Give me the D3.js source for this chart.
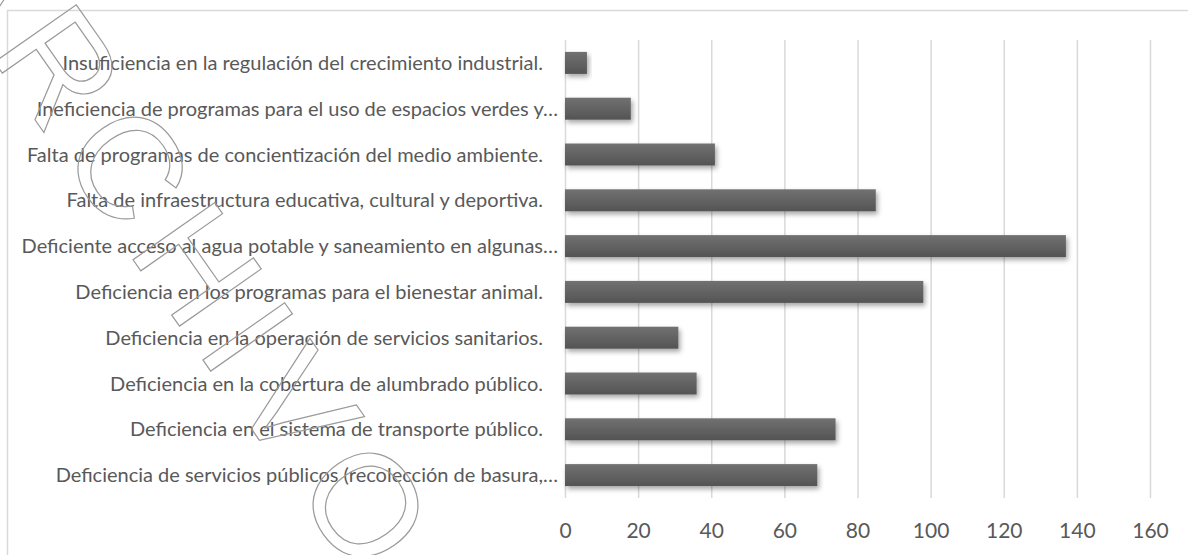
<!DOCTYPE html>
<meta charset="utf-8">

<style>
  body { margin: 0; background: white; }
  .cat-label { font-family: Lato, "Open Sans", sans-serif; font-size: 20px; fill: #595959; }
  .x-axis text { font-family: Lato, "Open Sans", sans-serif; font-size: 21px; fill: #595959; }
  .x-axis line { stroke: #d9d9d9; stroke-width: 1.5; }
  .watermark { font-family: "Liberation Sans", Arial, sans-serif; font-size: 145px; letter-spacing: 16px; fill: none; stroke: #9a9a9a; stroke-width: 1.2; }
</style>

<body>
  <script src="https://d3js.org/d3.v7.min.js"></script>

  <script type="application/javascript">
    var width = 1188,
        height = 555;

    // categories top to bottom, as shown
    var categories = [
      "Insuficiencia en la regulación del crecimiento industrial.",
      "Ineficiencia de programas para el uso de espacios verdes y…",
      "Falta de programas de concientización del medio ambiente.",
      "Falta de infraestructura educativa, cultural y deportiva.",
      "Deficiente acceso al agua potable y saneamiento en algunas…",
      "Deficiencia en los programas para el bienestar animal.",
      "Deficiencia en la operación de servicios sanitarios.",
      "Deficiencia en la cobertura de alumbrado público.",
      "Deficiencia en el sistema de  transporte público.",
      "Deficiencia de servicios públicos (recolección de basura,…"
    ];
    var values = [6, 18, 41, 85, 137, 98, 31, 36, 74, 69];
    var xTicks = [0, 20, 40, 60, 80, 100, 120, 140, 160];

    var margin = {top: 40, right: 38, bottom: 57, left: 565};

    var svg = d3.select("body").append("svg")
                .attr("width", width)
                .attr("height", height);

    var defs = svg.append("defs");
    var grad = defs.append("linearGradient")
                   .attr("id", "barGrad")
                   .attr("x1", 0).attr("y1", 0).attr("x2", 0).attr("y2", 1);
    grad.append("stop").attr("offset", "0%").attr("stop-color", "#717171");
    grad.append("stop").attr("offset", "100%").attr("stop-color", "#545454");

    var shadow = defs.append("filter")
                     .attr("id", "shadow")
                     .attr("x", "-10%").attr("y", "-30%")
                     .attr("width", "130%").attr("height", "180%");
    shadow.append("feDropShadow")
          .attr("dx", 2).attr("dy", 3)
          .attr("stdDeviation", 2.5)
          .attr("flood-color", "#000")
          .attr("flood-opacity", 0.35);

    // chart area border
    svg.append("rect")
       .attr("x", 7.5).attr("y", 10.5)
       .attr("width", width).attr("height", height)
       .attr("fill", "none")
       .attr("stroke", "#d9d9d9")
       .attr("stroke-width", 1.5);

    var x = d3.scaleLinear()
              .domain([0, 160])
              .range([margin.left, width - margin.right]);

    var y = d3.scaleBand()
              .domain(categories)
              .range([margin.top, height - margin.bottom])
              .paddingInner(0.52)
              .paddingOuter(0.26);

    var plotH = height - margin.bottom - margin.top;

    var xAxis = svg.append("g")
                   .attr("class", "x-axis")
                   .attr("transform", "translate(0," + (height - margin.bottom) + ")")
                   .call(d3.axisBottom(x).tickValues(xTicks).tickSize(-plotH).tickFormat(d3.format("d")));
    xAxis.select(".domain").remove();
    xAxis.selectAll("text").attr("y", 40).attr("dy", null);

    svg.append("g")
       .selectAll("rect")
       .data(values)
       .enter()
       .append("rect")
       .attr("x", x(0))
       .attr("y", function(d, i) { return y(categories[i]); })
       .attr("width", function(d) { return x(d) - x(0); })
       .attr("height", y.bandwidth())
       .attr("fill", "url(#barGrad)")
       .attr("filter", "url(#shadow)");

    svg.append("g")
       .selectAll("text")
       .data(categories)
       .enter()
       .append("text")
       .attr("class", "cat-label")
       .attr("text-anchor", "end")
       .attr("x", function(d) { return d.endsWith("…") ? x(0) - 7 : x(0) - 22; })
       .attr("y", function(d) { return y(d) + y.bandwidth() / 2; })
       .attr("dy", "0.35em")
       .text(function(d) { return d; });

    // outlined watermark over the chart
    svg.append("text")
       .attr("class", "watermark")
       .attr("transform", "translate(-77,-40) rotate(55)")
       .text("ARCHIVO");
  </script>
</body>
